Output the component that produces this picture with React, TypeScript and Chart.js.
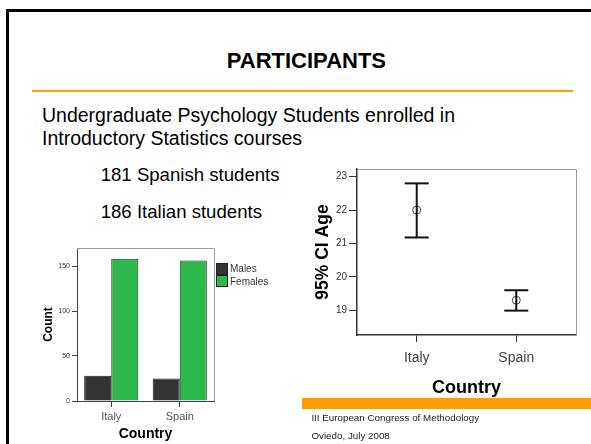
import React, { useEffect, useRef } from "react";
import { Chart, registerables } from "chart.js";

Chart.register(...registerables);

// ---- data ----
const countries = ["Italy", "Spain"];
const sexLabels = ["Males", "Females"];
const malesCount = [28, 25];
const femalesCount = [158, 156];
const countTicks = [0, 50, 100, 150];

const ageMean = [22.0, 19.3];
const ageLower = [21.18, 18.99];
const ageUpper = [22.8, 19.6];
const ageTicks = [19, 20, 21, 22, 23];

// ---- styles ----
const FONT = "'Liberation Sans', Arial, Helvetica, sans-serif";
const sexColors = ["#333333", "#2db84b"];
const ORANGE = "#ff9c00";

const framePlugin = {
  id: "frame",
  afterDatasetsDraw(chart: any) {
    const { ctx, chartArea } = chart;
    ctx.save();
    ctx.strokeStyle = "#9a9a9a";
    ctx.lineWidth = 1;
    ctx.beginPath();
    ctx.moveTo(chartArea.left, chartArea.top + 0.5);
    ctx.lineTo(chartArea.right + 0.5, chartArea.top + 0.5);
    ctx.lineTo(chartArea.right + 0.5, chartArea.bottom);
    ctx.stroke();
    ctx.restore();
  },
};

function BarChart() {
  const ref = useRef<HTMLCanvasElement>(null);
  useEffect(() => {
    const chart = new Chart(ref.current as HTMLCanvasElement, {
      type: "bar",
      data: {
        labels: countries,
        datasets: [
          {
            label: sexLabels[0],
            data: malesCount,
            backgroundColor: sexColors[0],
            borderColor: "#1a1a1a",
            borderWidth: 1,
            categoryPercentage: 0.79,
            barPercentage: 1,
          },
          {
            label: sexLabels[1],
            data: femalesCount,
            backgroundColor: sexColors[1],
            borderColor: "#1f3a22",
            borderWidth: 1,
            categoryPercentage: 0.79,
            barPercentage: 1,
          },
        ],
      },
      options: {
        animation: false,
        responsive: false,
        events: [],
        layout: { padding: { top: 8, right: 6, left: 0, bottom: 0 } },
        plugins: { legend: { display: false }, tooltip: { enabled: false } },
        scales: {
          x: {
            offset: true,
            grid: { offset: false, drawOnChartArea: false, tickLength: 6, color: "#444" },
            border: { color: "#444", width: 1 },
            ticks: { font: { family: FONT, size: 11 }, color: "#555", padding: 3 },
            title: {
              display: true,
              text: "Country",
              font: { family: FONT, size: 14, weight: "bold" },
              color: "#000",
              padding: { top: 0, bottom: 2 },
            },
            afterFit: (s: any) => {
              s.height = 44;
            },
          },
          y: {
            min: 0,
            max: 170,
            grid: { drawOnChartArea: false, tickLength: 5, color: "#444" },
            border: { color: "#444", width: 1 },
            ticks: { font: { family: FONT, size: 7 }, color: "#333", padding: 2 },
            afterBuildTicks: (s: any) => {
              s.ticks = countTicks.map((v) => ({ value: v }));
            },
            title: {
              display: true,
              text: "Count",
              font: { family: FONT, size: 12, weight: "bold" },
              color: "#000",
              padding: { top: 1, bottom: 0 },
            },
            afterFit: (s: any) => {
              s.width = 37;
            },
          },
        },
      },
      plugins: [framePlugin],
    } as any);
    return () => chart.destroy();
  }, []);
  return (
    <canvas
      ref={ref}
      width={180}
      height={205}
      style={{ position: "absolute", left: 40, top: 240, width: 180, height: 205 }}
    />
  );
}

function ErrorChart() {
  const ref = useRef<HTMLCanvasElement>(null);
  useEffect(() => {
    const whiskers = countries.map((c, i) => ({
      label: c + " CI",
      data: [
        { x: i, y: ageLower[i] },
        { x: i, y: ageUpper[i] },
      ],
      showLine: true,
      borderColor: "#111",
      borderWidth: 2,
      pointRadius: 0,
    }));
    const caps = {
      label: "caps",
      data: countries.flatMap((c, i) => [
        { x: i, y: ageLower[i] },
        { x: i, y: ageUpper[i] },
      ]),
      pointStyle: "line",
      pointRadius: 12,
      borderColor: "#111",
      borderWidth: 2,
    };
    const means = {
      label: "mean",
      data: countries.map((c, i) => ({ x: i, y: ageMean[i] })),
      pointStyle: "circle",
      pointRadius: 4,
      backgroundColor: "#ffffff",
      borderColor: "#444",
      borderWidth: 1,
    };
    const chart = new Chart(ref.current as HTMLCanvasElement, {
      type: "scatter",
      data: { datasets: [...whiskers, caps, means] },
      options: {
        animation: false,
        responsive: false,
        events: [],
        layout: { padding: { top: 9.5, right: 15, left: 0, bottom: 0 } },
        plugins: { legend: { display: false }, tooltip: { enabled: false } },
        scales: {
          x: {
            type: "linear",
            min: -0.6,
            max: 1.6,
            grid: { drawOnChartArea: false, tickLength: 7, color: "#333" },
            border: { color: "#333", width: 1.5 },
            afterBuildTicks: (s: any) => {
              s.ticks = countries.map((c, i) => ({ value: i }));
            },
            ticks: {
              font: { family: FONT, size: 14 },
              color: "#444",
              padding: 8,
              callback: (v: any) => countries[Math.round(Number(v))] ?? "",
            },
            title: {
              display: true,
              text: "Country",
              font: { family: FONT, size: 18, weight: "bold" },
              color: "#000",
              padding: { top: 0, bottom: 4 },
            },
            afterFit: (s: any) => {
              s.height = 68;
            },
          },
          y: {
            min: 18.26,
            max: 23.23,
            grid: { drawOnChartArea: false, tickLength: 8, color: "#333" },
            border: { color: "#333", width: 1.5 },
            afterBuildTicks: (s: any) => {
              s.ticks = ageTicks.map((v) => ({ value: v }));
            },
            ticks: { font: { family: FONT, size: 10 }, color: "#333", padding: 2 },
            title: {
              display: true,
              text: "95% CI Age",
              font: { family: FONT, size: 17.5, weight: "bold" },
              color: "#000",
              padding: { top: 13, bottom: 0 },
            },
            afterFit: (s: any) => {
              s.width = 57;
            },
          },
        },
      },
      plugins: [framePlugin],
    } as any);
    return () => chart.destroy();
  }, []);
  return (
    <canvas
      ref={ref}
      width={291}
      height={248}
      style={{ position: "absolute", left: 300, top: 155, width: 291, height: 248 }}
    />
  );
}

const txt = (extra: React.CSSProperties): React.CSSProperties => ({
  position: "absolute",
  lineHeight: 1,
  whiteSpace: "nowrap",
  color: "#000",
  ...extra,
});

export default function App() {
  return (
    <div
      style={{
        position: "fixed",
        left: 0,
        top: 0,
        width: 591,
        height: 444,
        background: "#fff",
        overflow: "hidden",
        fontFamily: FONT,
      }}
    >
      {/* slide frame */}
      <div
        style={{
          position: "absolute",
          left: 6,
          top: 9,
          width: 700,
          height: 600,
          border: "3px solid #000",
          boxSizing: "border-box",
        }}
      />
      <div style={txt({ left: 306.4, top: 49.7, fontSize: 22, fontWeight: "bold", transform: "translateX(-50%)" })}>
        PARTICIPANTS
      </div>
      <div style={{ position: "absolute", left: 32, top: 89.5, width: 541, height: 2, background: ORANGE }} />
      <div style={txt({ left: 42, top: 105.5, fontSize: 19.5 })}>Undergraduate Psychology Students enrolled in</div>
      <div style={txt({ left: 42, top: 128.5, fontSize: 19.5 })}>Introductory Statistics courses</div>
      <div style={txt({ left: 100.7, top: 166, fontSize: 18.6 })}>181 Spanish students</div>
      <div style={txt({ left: 100.7, top: 203.3, fontSize: 18.6 })}>186 Italian students</div>

      <BarChart />
      {/* legend */}
      {sexLabels.map((s, i) => (
        <React.Fragment key={s}>
          <div
            style={{
              position: "absolute",
              left: 216,
              top: 262.5 + i * 12,
              width: 12,
              height: 12,
              boxSizing: "border-box",
              background: sexColors[i],
              border: "1px solid #222",
            }}
          />
          <div style={txt({ left: 230, top: 264 + i * 13, fontSize: 10, color: "#333" })}>{s}</div>
        </React.Fragment>
      ))}

      <ErrorChart />

      <div style={{ position: "absolute", left: 301.7, top: 397.5, width: 290, height: 11, background: ORANGE }} />
      <div style={txt({ left: 311.4, top: 413.4, fontSize: 9.8, color: "#222" })}>III European Congress of Methodology</div>
      <div style={txt({ left: 311.4, top: 431, fontSize: 9.8, color: "#222" })}>Oviedo, July 2008</div>
    </div>
  );
}
